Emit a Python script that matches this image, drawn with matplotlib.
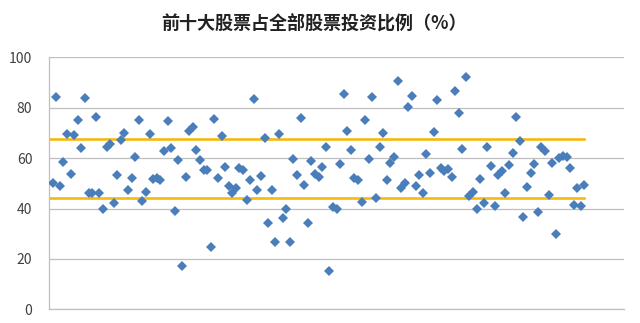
import numpy as np
import matplotlib
matplotlib.use('Agg')
import matplotlib.pyplot as plt

plt.rcParams['font.family'] = ['Noto Sans CJK SC', 'DejaVu Sans']

# 前十大股票占全部股票投资比例（%），每只基金一个点
ratios = [
    50.2, 84.4, 48.9, 58.5, 69.6, 53.6, 69.2, 75.2, 64.1, 84.0,
    46.3, 46.0, 76.2, 46.0, 39.9, 64.5, 65.6, 42.1, 53.3, 67.2,
    70.1, 47.2, 52.1, 60.6, 75.1, 43.1, 46.7, 69.6, 51.6, 52.0,
    51.3, 62.9, 74.7, 63.9, 39.0, 59.2, 17.2, 52.6, 70.8, 72.5,
    63.2, 59.2, 55.3, 55.3, 24.6, 75.6, 52.0, 68.8, 56.6, 48.9,
    46.0, 48.0, 56.0, 55.3, 43.4, 51.3, 83.5, 47.3, 53.0, 67.9,
    34.4, 47.3, 26.6, 69.6, 36.4, 39.9, 26.6, 59.6, 53.3, 75.8,
    49.2, 34.1, 58.8, 53.7, 52.6, 56.6, 64.5, 15.3, 40.5, 39.7,
    57.5, 85.3, 70.9, 63.2, 52.2, 51.3, 42.7, 75.1, 59.6, 84.4,
    44.3, 64.5, 70.1, 51.3, 58.2, 60.6, 90.7, 48.0, 50.0, 80.4,
    84.8, 48.9, 53.3, 46.3, 61.6, 54.2, 70.2, 83.1, 56.1, 54.8,
    55.7, 52.6, 86.5, 77.8, 63.6, 92.1, 45.1, 46.4, 39.7, 51.6,
    42.3, 64.3, 56.9, 41.0, 53.3, 54.8, 46.3, 57.1, 61.9, 76.4,
    66.7, 36.7, 48.7, 54.0, 57.5, 38.5, 64.3, 62.9, 45.4, 57.9,
    30.0, 59.9, 60.8, 60.3, 56.0, 41.5, 48.3, 41.1, 49.3,
]
funds = np.arange(1, len(ratios) + 1)

# 两条参考线
upper_line = 67.7
lower_line = 44.0
line_x = [0, len(ratios)]

fig = plt.figure(figsize=(6.4, 3.23), dpi=100)
ax = fig.add_axes([0.0766, 0.0424, 0.8984, 0.780])

ax.plot(line_x, [upper_line, upper_line], color='#F5B90F', lw=1.9, zorder=2)
ax.plot(line_x, [lower_line, lower_line], color='#F5B90F', lw=1.9, zorder=2)
ax.plot(funds, ratios, 'D', color='#4A7EBB', markersize=4.8,
        markeredgewidth=0, zorder=3)

ax.set_xlim(0, 160)
ax.set_ylim(0, 100)
ax.set_yticks([0, 20, 40, 60, 80, 100])
ax.set_xticks([])
ax.yaxis.grid(True, color='#BFBFBF', lw=0.9)
ax.set_axisbelow(True)
ax.tick_params(axis='y', length=0, pad=12, labelsize=10, labelcolor='#404040')
for side in ['top', 'right']:
    ax.spines[side].set_visible(False)
for side in ['left', 'bottom']:
    ax.spines[side].set_color('#BFBFBF')
    ax.spines[side].set_linewidth(0.9)

fig.text(0.49, 0.93, '前十大股票占全部股票投资比例（%）', ha='center', va='center',
         fontsize=13, fontweight='bold', color='#222222')

fig.savefig('out.png', dpi=100)
